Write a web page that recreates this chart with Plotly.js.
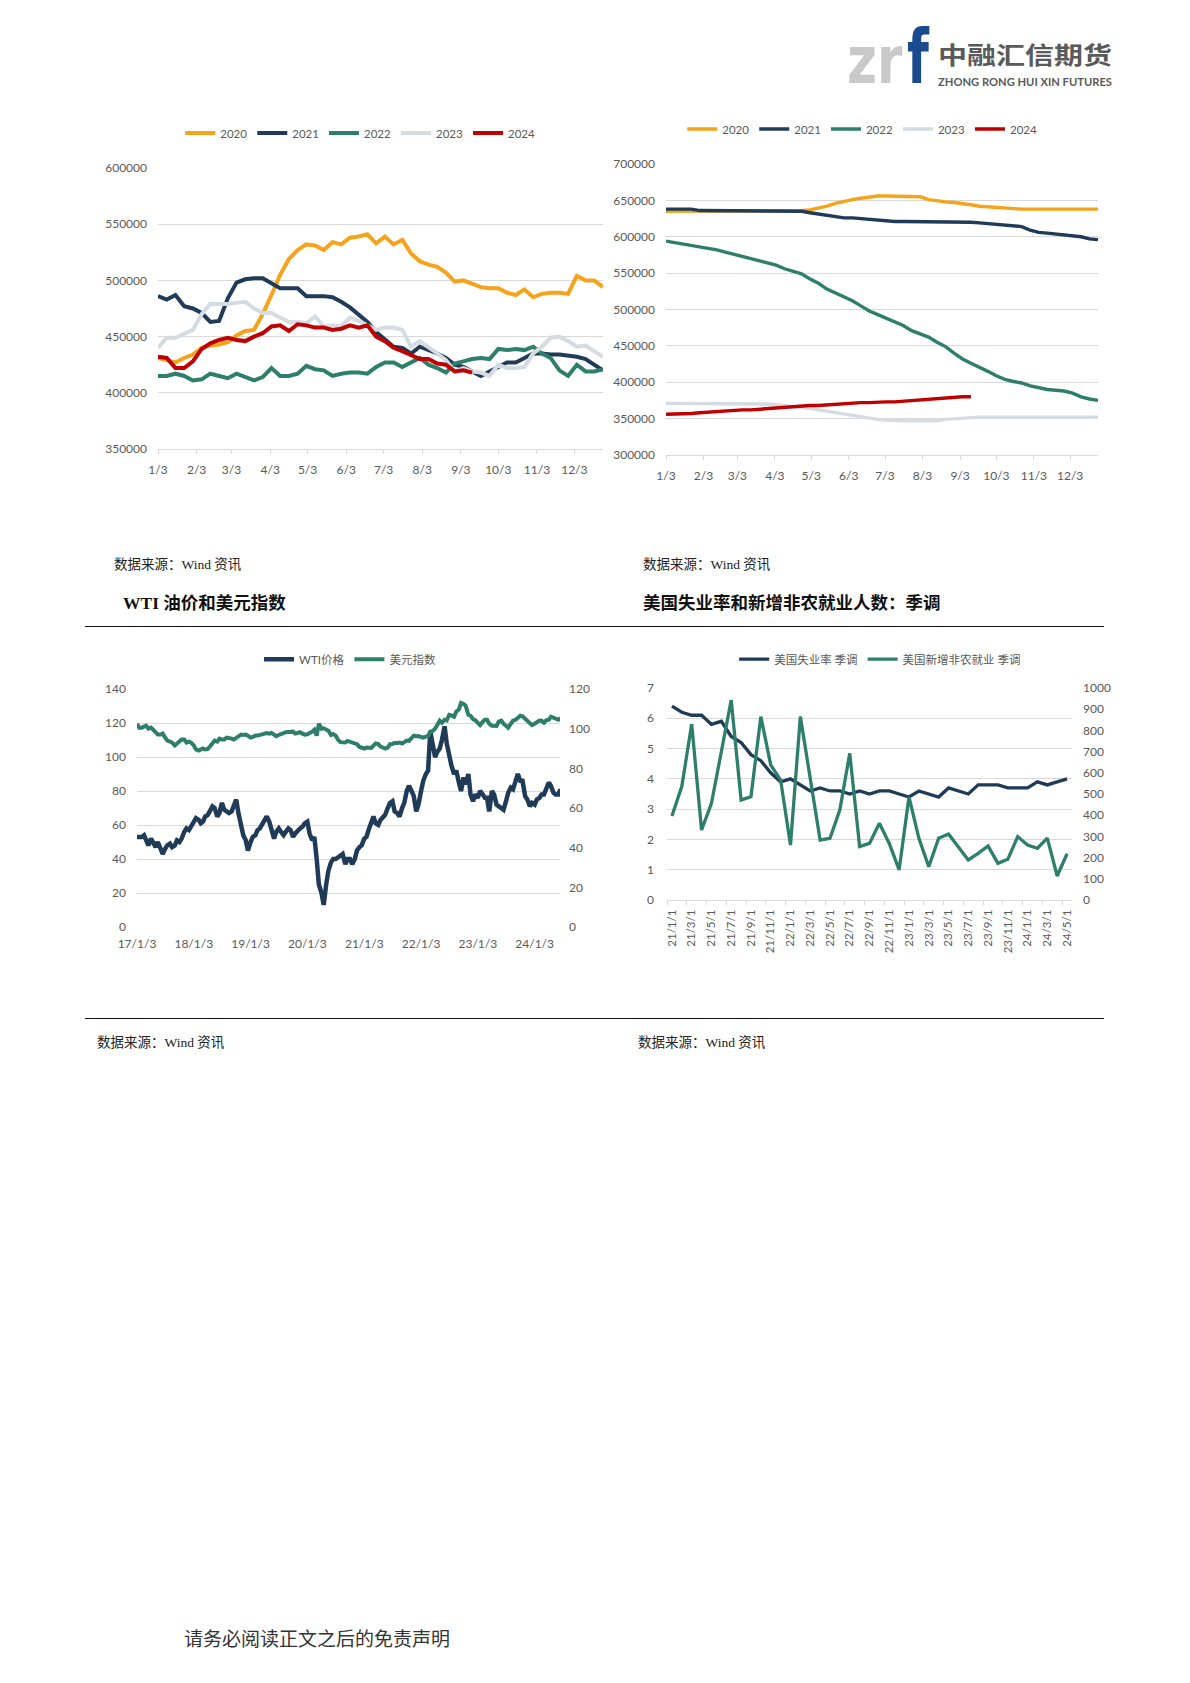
<!DOCTYPE html>
<html><head><meta charset="utf-8">
<script src="https://cdn.plot.ly/plotly-3.0.1.min.js"></script>
<style>
body{margin:0;background:#fff;width:1190px;height:1683px;position:relative;overflow:hidden;font-family:"Liberation Serif","Noto Sans CJK SC",serif;}
.chart{position:absolute;}
.txt{position:absolute;white-space:nowrap;line-height:1;}
.src{font-size:13.5px;color:#222;}
.hdr{font-size:17.5px;font-weight:bold;color:#111;}
.rule{position:absolute;height:0;border-top:1.4px solid #111;}
</style></head>
<body>
<svg class="chart" style="left:836px;top:18px;overflow:visible" width="300" height="80">
  <g transform="translate(11,65) scale(0.78,1)"><text x="0" y="0" fill="#c9c9c9" font-family="DejaVu Sans" font-weight="bold" font-size="66">zr</text></g>
  <g transform="translate(71,65) scale(0.68,1)"><text x="0" y="0" fill="#1b4b8f" font-family="DejaVu Sans" font-weight="bold" font-size="74">f</text></g>
  <text x="102" y="46" fill="#5a5a5a" font-family="Noto Sans CJK SC" font-weight="bold" font-size="24" textLength="174" lengthAdjust="spacingAndGlyphs">中融汇信期货</text>
  <text x="102" y="68" fill="#5a5a5a" font-family="Lato, DejaVu Sans" font-weight="bold" font-size="11" textLength="174" lengthAdjust="spacingAndGlyphs">ZHONG RONG HUI XIN FUTURES</text>
</svg>

<div id="c1" class="chart" style="left:80px;top:105px;width:540px;height:395px"></div>
<div id="c2" class="chart" style="left:580px;top:100px;width:560px;height:400px"></div>
<div class="txt src" style="left:114px;top:558px">数据来源：Wind 资讯</div>
<div class="txt src" style="left:643px;top:558px">数据来源：Wind 资讯</div>
<div class="txt hdr" style="left:123px;top:595px">WTI 油价和美元指数</div>
<div class="txt hdr" style="left:643px;top:595px">美国失业率和新增非农就业人数：季调</div>
<div class="rule" style="left:85px;top:626px;width:1019px"></div>
<div id="c3" class="chart" style="left:70px;top:640px;width:560px;height:330px"></div>
<div id="c4" class="chart" style="left:580px;top:640px;width:560px;height:340px"></div>
<div class="rule" style="left:85px;top:1018px;width:1019px"></div>
<div class="txt src" style="left:97px;top:1036px">数据来源：Wind 资讯</div>
<div class="txt src" style="left:638px;top:1036px">数据来源：Wind 资讯</div>
<div class="txt" style="left:184px;top:1630px;font-size:19px;color:#333">请务必阅读正文之后的免责声明</div>

<script>
// ---------- data: weekly seasonal charts (week 1 = Jan 3) ----------
const seasonYears = ['2020','2021','2022','2023','2024'];
const monthTickLabels = ['1/3','2/3','3/3','4/3','5/3','6/3','7/3','8/3','9/3','10/3','11/3','12/3'];

const left2020 = [431000,429000,427000,431000,434000,440000,442000,443000,445000,451000,455000,456000,470000,487000,505000,519000,527000,532000,531000,527000,534000,532000,538000,539000,541000,533000,539000,532000,536000,524000,517000,514000,512000,507000,499000,500000,497000,494000,493000,493000,489000,487000,492000,485000,488000,489000,489000,488000,504000,500000,500000,494000];
const left2021 = [486000,483000,487000,477000,475000,471000,463000,464000,484000,498000,501000,502000,502000,498000,493000,493000,493000,486000,486000,486000,485000,481000,476000,470000,463000,454000,447000,441000,440000,435000,441000,438000,435000,431000,425000,423000,419000,415000,419000,423000,427000,427000,431000,435000,435000,434000,434000,433000,432000,430000,425000,420000];
const left2022 = [415000,415000,417000,415000,411000,412000,417000,415000,413000,417000,414000,411000,414000,422000,415000,415000,417000,424000,421000,420000,415000,417000,418000,418000,417000,423000,427000,427000,423000,427000,431000,425000,422000,418000,426000,428000,430000,431000,430000,439000,438000,439000,438000,441000,435000,431000,420000,415000,425000,419000,419000,421000];
const left2023 = [440000,449000,449000,453000,456000,470000,479000,479000,479000,480000,481000,475000,471000,471000,467000,463000,463000,462000,468000,459000,460000,459000,467000,464000,460000,456000,458000,458000,456000,441000,446000,441000,435000,429000,419000,422000,419000,418000,415000,425000,422000,422000,423000,435000,441000,449000,450000,446000,441000,442000,437000,432000];
const left2024 = [432000,431000,422000,422000,428000,439000,444000,447000,449000,447000,446000,450000,453000,459000,460000,455000,461000,460000,458000,458000,456000,457000,460000,458000,460000,450000,446000,440000,437000,433000,430000,430000,426000,425000,419000,420000,418000];

const right2020 = [635000,635000,635000,635000,635000,635000,635000,635000,635000,635000,635000,635000,635000,635000,635000,635000,636000,637000,639000,642000,646000,649000,651000,653000,655000,656000,656000,656000,656000,656000,655000,651000,649000,648000,647000,646000,644000,642000,641000,641000,640000,639000,638000,638000,638000,638000,638000,638000,638000,638000,638000,638000];
const right2021 = [638000,638000,638000,638000,636000,636000,636000,636000,636000,636000,636000,636000,636000,636000,636000,636000,635000,633000,631000,629000,627000,626000,626000,625000,624000,622000,621000,621000,621000,621000,621000,621000,621000,621000,621000,621000,620000,619000,618000,617000,616000,615000,614000,609000,606000,605000,604000,602000,601000,600000,597000,596000];
const right2022 = [594000,592000,590000,588000,587000,585000,582000,579000,576000,573000,571000,568000,565000,561000,556000,552000,549000,542000,536000,528000,523000,517000,512000,505000,498000,493000,488000,483000,478000,471000,467000,462000,455000,449000,440000,432000,426000,421000,415000,409000,404000,401000,399000,395000,392000,390000,389000,388000,385000,380000,377000,375000];
const right2023 = [371000,371000,371000,371000,371000,371000,371000,371000,371000,371000,371000,371000,370000,369000,368000,367000,366000,364000,362000,360000,358000,357000,355000,353000,351000,349000,348000,347000,347000,347000,347000,347000,347000,349000,350000,351000,351000,352000,352000,352000,352000,352000,352000,352000,352000,352000,352000,352000,352000,352000,352000,352000];
const right2024 = [356000,356000,357000,357000,358000,359000,359000,360000,361000,362000,362000,363000,363000,364000,365000,366000,367000,368000,368000,369000,370000,371000,371000,372000,372000,373000,373000,373000,374000,375000,376000,377000,378000,379000,380000,380000,380000];

// ---------- data: WTI & dollar index (two readings per month, 3rd and 17th) ----------
const wtiYears = ['2017','2018','2019','2020','2021','2022','2023','2024'];
const wtiTickLabels = ['17/1/3','18/1/3','19/1/3','20/1/3','21/1/3','22/1/3','23/1/3','24/1/3'];
const wti = [
 53,53,53,54,50,48,52,49,47,50,46,43,46,48,49,47,48,51,50,52,56,58,57,59,
 61,64,63,61,62,65,66,68,71,70,65,67,73,69,68,67,68,71,75,67,60,54,51,45,
 50,53,54,57,58,60,63,65,62,58,52,56,58,56,54,56,58,57,53,55,57,58,59,61,
 62,55,51,53,40,25,20,13,25,33,38,40,40,41,42,43,37,40,40,37,40,45,47,48,
 52,53,58,62,65,61,60,63,65,66,70,73,74,68,67,65,70,73,80,83,80,77,68,72,
 80,86,90,92,115,108,100,103,105,110,118,108,100,95,90,92,85,80,88,84,90,78,74,78,
 76,80,78,76,76,68,80,78,72,71,70,69,74,79,82,81,86,90,86,86,77,75,71,73,
 72,75,76,78,78,81,85,83,79,78,78,81];
const dollarIndex = [
 102.5,100.5,100.5,101,101.5,100,100.5,99.5,98.5,97,97,97.5,95.5,94,93.5,93,91.5,92.5,93.5,94.5,94.5,93,93.5,93,
 91.5,89.5,89,89.5,90,89.5,89.8,91,93,94,93.5,95,94.5,94.5,95.5,95.5,95,94.5,95.5,96,97,96.8,97,96.5,
 95.5,95.8,96.5,96.5,96.8,96.7,97,97.8,97.5,97.8,97,96.2,96.8,97.5,97.8,98.2,98.3,98.8,98.5,97.5,98,98.2,97.5,97,
 97.2,97.6,98.5,99.5,96.5,102.5,100,100.2,99.5,99,96.8,97.3,96.5,94.5,93.2,93,93,93.8,93.5,92.9,92.5,92.2,90.8,90.2,
 90,90.5,90.5,90.3,91.5,92.6,92.3,91,90.5,90,90.5,92.2,92.3,92.8,92.8,93,92.5,93.3,94,93.8,95,96.5,96.2,96.3,
 95.8,95.5,96,96.2,98.5,98.7,100,101.5,104,103,104.5,104.2,107,106.7,106,108.5,109.7,113,112.5,111.5,107,106.5,104.8,104.3,
 102.5,101.8,103.4,104.5,104.5,102.5,101.5,101.5,101.4,103.5,104,102.5,101.5,100.5,102.5,104,104.5,105.5,106.5,106.2,105,103.5,102.8,101.8,
 102.5,103.3,104.1,104,103,104.2,104.5,106,105.3,104.7,104.5,105.4];

// ---------- data: US unemployment & nonfarm payrolls (monthly) ----------
const jobMonths = ['21/1/1','21/2/1','21/3/1','21/4/1','21/5/1','21/6/1','21/7/1','21/8/1','21/9/1','21/10/1','21/11/1','21/12/1',
 '22/1/1','22/2/1','22/3/1','22/4/1','22/5/1','22/6/1','22/7/1','22/8/1','22/9/1','22/10/1','22/11/1','22/12/1',
 '23/1/1','23/2/1','23/3/1','23/4/1','23/5/1','23/6/1','23/7/1','23/8/1','23/9/1','23/10/1','23/11/1','23/12/1',
 '24/1/1','24/2/1','24/3/1','24/4/1','24/5/1'];
const unemploymentRate = [6.4,6.2,6.1,6.1,5.8,5.9,5.4,5.2,4.8,4.6,4.2,3.9,4.0,3.8,3.6,3.7,3.6,3.6,3.5,3.6,3.5,3.6,3.6,3.5,3.4,3.6,3.5,3.4,3.7,3.6,3.5,3.8,3.8,3.8,3.7,3.7,3.7,3.9,3.8,3.9,4.0];
const nonfarmPayrolls = [396,536,830,330,456,700,943,472,487,865,637,566,259,865,582,283,291,425,692,252,267,362,267,142,487,291,157,291,311,252,189,220,255,173,192,299,259,244,292,113,218];

// ---------- helpers ----------
const C = {orange:'#f5a31a', navy:'#1f3b58', green:'#2e7e6c', gray:'#d5dbe2', red:'#c00000'};
const seasonColors = [C.orange, C.navy, C.green, C.gray, C.red];
const FAM = 'Lato, "Noto Sans CJK SC", sans-serif';
const TF = {family:FAM, size:12, color:'#595959'};
const LF = {family:FAM, size:11.5, color:'#595959'};
const GRID = '#d9d9d9';
const CLEAR = 'rgba(0,0,0,0)';

function weekDates(n){const a=[];for(let i=0;i<n;i++){a.push(new Date(Date.UTC(2021,0,3+7*i)).toISOString().slice(0,10));}return a;}
const monthTickVals = monthTickLabels.map((t,i)=>'2021-'+String(i+1).padStart(2,'0')+'-03');
const halfMonthDates = (()=>{const a=[];for(const y of wtiYears){for(let m=1;m<=12;m++){for(const d of ['03','17']){a.push(y+'-'+String(m).padStart(2,'0')+'-'+d);}}}return a.slice(0,wti.length);})();
const wtiTickVals = wtiYears.map(y=>y+'-01-03');

function legendAt(x, y){
  return {orientation:'h', xref:'container', yref:'container', x:x, xanchor:'center', y:y, yanchor:'middle',
    font:LF, itemwidth:30, bgcolor:CLEAR};
}
function seasonalTraces(series, width){
  return series.map((s,k)=>({x:weekDates(s.length), y:s, name:seasonYears[k], type:'scatter', mode:'lines',
    line:{color:seasonColors[k], width:width}}));
}
function seasonalLayout(m, ymin, ymax, legend){
  return {
    width:m.w, height:m.h, margin:{l:m.l, r:m.r, t:m.t, b:m.b}, paper_bgcolor:CLEAR, plot_bgcolor:CLEAR,
    font:TF, showlegend:true, legend:legend,
    xaxis:{type:'date', range:['2021-01-03','2021-12-26'], tickvals:monthTickVals, ticktext:monthTickLabels,
      showgrid:false, showline:true, linecolor:GRID, linewidth:1, ticks:'outside', ticklen:4, tickcolor:GRID,
      tickfont:TF, ticklabelstandoff:6, zeroline:false},
    yaxis:{range:[ymin,ymax], dtick:50000, tickformat:'d', showgrid:true, gridcolor:GRID, gridwidth:1,
      zeroline:false, showline:false, ticks:'', tickfont:TF, ticklabelstandoff:10}
  };
}
const cfg = {staticPlot:true, displayModeBar:false};

// Chart 1
Plotly.newPlot('c1', seasonalTraces([left2020,left2021,left2022,left2023,left2024], 4),
  seasonalLayout({w:540,h:395,l:78,r:17,t:63,b:51}, 350000, 600000, legendAt(0.519, 0.929)), cfg);
// Chart 2
Plotly.newPlot('c2', seasonalTraces([right2020,right2021,right2022,right2023,right2024], 3.4),
  seasonalLayout({w:560,h:400,l:86,r:42,t:64,b:45}, 300000, 700000, legendAt(0.504, 0.9275)), cfg);

// Chart 3
Plotly.newPlot('c3', [
  {x:halfMonthDates, y:wti, name:'WTI价格', type:'scatter', mode:'lines', line:{color:C.navy, width:4.5}},
  {x:halfMonthDates, y:dollarIndex, name:'美元指数', type:'scatter', mode:'lines', yaxis:'y2', line:{color:C.green, width:4}}
], {
  width:560, height:330, margin:{l:67, r:70, t:49, b:43}, paper_bgcolor:CLEAR, plot_bgcolor:CLEAR, font:TF,
  showlegend:true, legend:legendAt(0.5, 0.942),
  xaxis:{type:'date', range:['2017-01-03','2024-06-14'], tickvals:wtiTickVals, ticktext:wtiTickLabels,
    showgrid:false, showline:false, ticks:'', tickfont:TF, ticklabelstandoff:8, zeroline:false},
  yaxis:{range:[0,140], dtick:20, showgrid:true, gridcolor:GRID, zeroline:false, ticks:'', tickfont:TF, ticklabelstandoff:10},
  yaxis2:{range:[0,120], dtick:20, overlaying:'y', side:'right', showgrid:false, zeroline:false, ticks:'', tickfont:TF, ticklabelstandoff:8}
}, cfg);

// Chart 4
Plotly.newPlot('c4', [
  {x:jobMonths, y:unemploymentRate, name:'美国失业率 季调', type:'scatter', mode:'lines', line:{color:C.navy, width:3.3}},
  {x:jobMonths, y:nonfarmPayrolls, name:'美国新增非农就业 季调', type:'scatter', mode:'lines', yaxis:'y2', line:{color:C.green, width:3.3}}
], {
  width:560, height:340, margin:{l:87, r:68, t:48, b:80}, paper_bgcolor:CLEAR, plot_bgcolor:CLEAR, font:TF,
  showlegend:true, legend:legendAt(0.536, 0.944),
  xaxis:{type:'category', range:[-0.5,40.5], dtick:2, tickangle:-90, tickson:'boundaries', ticks:'outside', ticklen:4, tickcolor:GRID,
    showgrid:false, showline:true, linecolor:GRID, tickfont:{family:FAM, size:11.5, color:'#595959'}, ticklabelstandoff:4},
  yaxis:{range:[0,7], dtick:1, showgrid:true, gridcolor:GRID, zeroline:false, ticks:'', tickfont:TF, ticklabelstandoff:12},
  yaxis2:{range:[0,1000], dtick:100, overlaying:'y', side:'right', showgrid:false, zeroline:false, ticks:'', tickfont:TF, ticklabelstandoff:10}
}, cfg);
</script>
</body></html>
